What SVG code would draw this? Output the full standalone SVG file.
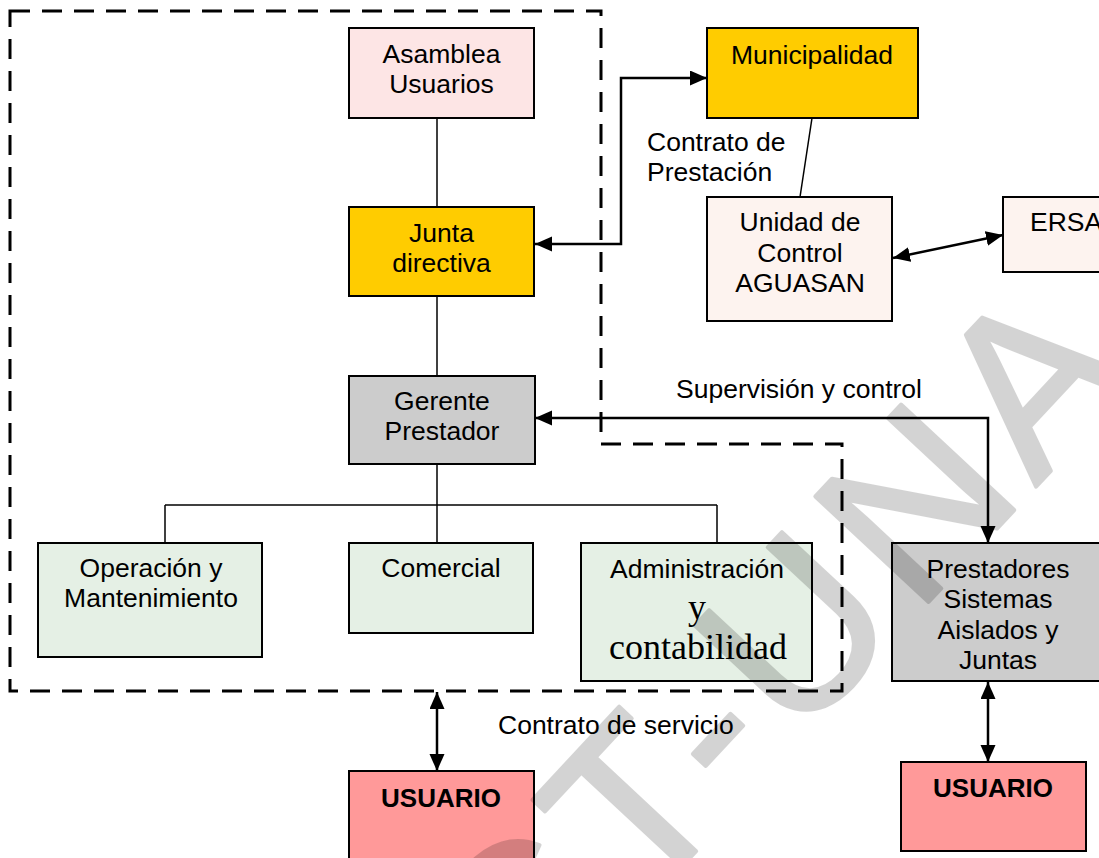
<svg xmlns="http://www.w3.org/2000/svg" width="1099" height="858" viewBox="0 0 1099 858">
<style>
.box{stroke:#000;stroke-width:2}
.t{font-family:"Liberation Sans",Arial,sans-serif;font-size:26.5px;fill:#000;text-anchor:middle}
.l{font-family:"Liberation Sans",Arial,sans-serif;font-size:26.5px;fill:#000}
.b{font-family:"Liberation Sans",Arial,sans-serif;font-size:26px;font-weight:bold;fill:#000;text-anchor:middle}
.s{font-family:"Liberation Serif","Times New Roman",serif;font-size:36px;fill:#000;text-anchor:middle}
.thin{fill:none;stroke:#000;stroke-width:1.5}
.arr{fill:none;stroke:#000;stroke-width:2.5;marker-start:url(#ah);marker-end:url(#ah)}
.dash{fill:none;stroke:#000;stroke-width:3;stroke-dasharray:20 12}
</style>
<defs>
<marker id="ah" markerUnits="userSpaceOnUse" markerWidth="18" markerHeight="16" refX="17" refY="7.5" orient="auto-start-reverse" viewBox="0 0 18 16">
<path d="M0,0 L17,7.5 L0,15 z" fill="#000"/>
</marker>
</defs>
<rect width="1099" height="858" fill="#fff"/>

<g id="boundary">
<path class="dash" d="M10,11 H601 V444 H842 V691 H10 Z"/>
</g>

<g id="connectors">
<line class="thin" x1="437" y1="118" x2="437" y2="207"/>
<line class="thin" x1="437" y1="296" x2="437" y2="376"/>
<line class="thin" x1="437" y1="464" x2="437" y2="543"/>
<line class="thin" x1="165" y1="505" x2="717" y2="505"/>
<line class="thin" x1="165" y1="505" x2="165" y2="543"/>
<line class="thin" x1="717" y1="505" x2="717" y2="543"/>
<line class="thin" x1="812" y1="118" x2="800" y2="197"/>
<path class="arr" d="M535,244 H621 V78 H707"/>
<path class="arr" d="M893,258 L1003,235"/>
<path class="arr" d="M535,418 H988 V543"/>
<path class="arr" d="M988,682 V762"/>
<path class="arr" d="M437,692 V771"/>
</g>

<g id="asamblea">
<rect class="box" x="349" y="28" width="185" height="90" fill="#fde5e5"/>
<text class="t" x="441.5" y="63">Asamblea</text>
<text class="t" x="441.5" y="93">Usuarios</text>
</g>
<g id="junta">
<rect class="box" x="349" y="207" width="185" height="89" fill="#ffcc00"/>
<text class="t" x="441.5" y="242">Junta</text>
<text class="t" x="441.5" y="272">directiva</text>
</g>
<g id="gerente">
<rect class="box" x="349" y="376" width="186" height="88" fill="#cccccc"/>
<text class="t" x="442" y="410">Gerente</text>
<text class="t" x="442" y="440">Prestador</text>
</g>
<g id="operacion">
<rect class="box" x="38" y="543" width="224" height="114" fill="#e5f0e5"/>
<text class="t" x="151" y="577">Operación y</text>
<text class="t" x="151" y="607">Mantenimiento</text>
</g>
<g id="comercial">
<rect class="box" x="349" y="543" width="184" height="90" fill="#e5f0e5"/>
<text class="t" x="441" y="577">Comercial</text>
</g>
<g id="administracion">
<rect class="box" x="581" y="543" width="231" height="138" fill="#e5f0e5"/>
<text class="t" x="697" y="578">Administración</text>
<text class="s" x="697" y="619">y</text>
<text class="s" x="698" y="659">contabilidad</text>
</g>
<g id="municipalidad">
<rect class="box" x="707" y="28" width="211" height="90" fill="#ffcc00"/>
<text class="t" x="812" y="64">Municipalidad</text>
</g>
<g id="unidad">
<rect class="box" x="707" y="197" width="185" height="124" fill="#fdf3ef"/>
<text class="t" x="800" y="231">Unidad de</text>
<text class="t" x="800" y="262">Control</text>
<text class="t" x="800" y="292">AGUASAN</text>
</g>
<g id="ersa">
<rect class="box" x="1003" y="197" width="127" height="75" fill="#fdf3ef"/>
<text class="l" x="1030" y="231">ERSA</text>
</g>
<g id="prestadores">
<rect class="box" x="892" y="543" width="212" height="138" fill="#cccccc"/>
<text class="t" x="998" y="578">Prestadores</text>
<text class="t" x="998" y="608">Sistemas</text>
<text class="t" x="998" y="639">Aislados y</text>
<text class="t" x="998" y="669">Juntas</text>
</g>
<g id="usuario1">
<rect class="box" x="349" y="771" width="185" height="100" fill="#ff9999"/>
<text class="b" x="441" y="807">USUARIO</text>
</g>
<g id="usuario2">
<rect class="box" x="901" y="762" width="185" height="89" fill="#ff9999"/>
<text class="b" x="993" y="797">USUARIO</text>
</g>

<g id="labels">
<text class="l" x="647" y="151">Contrato de</text>
<text class="l" x="647" y="181">Prestación</text>
<text class="l" x="676" y="398">Supervisión y control</text>
<text class="l" x="498" y="734">Contrato de servicio</text>
</g>

<g id="watermark" opacity="0.17">
<text x="522.5" y="1037.4" transform="rotate(-47 522.5 1037.4)" font-family="Liberation Sans, Arial, sans-serif" font-size="225" letter-spacing="13" fill="#000" stroke="#000" stroke-width="4" stroke-linejoin="round">CT-UNA</text>
</g>
</svg>
